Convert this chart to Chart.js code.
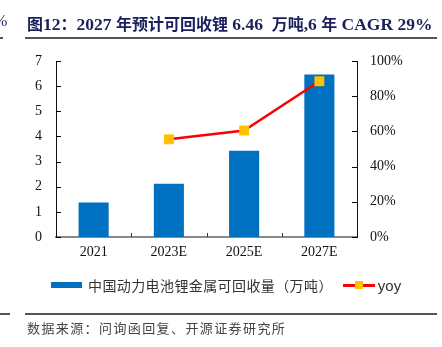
<!DOCTYPE html>
<html><head><meta charset="utf-8">
<script src="https://cdn.jsdelivr.net/npm/chart.js@4/dist/chart.umd.min.js"></script>
<style>
html,body{margin:0;padding:0;background:#fff;width:442px;height:347px;overflow:hidden;}
body{position:relative;font-family:"Noto Sans CJK SC",sans-serif;}
#wrap{position:absolute;left:0;top:0;width:442px;height:347px;}
.abs{position:absolute;white-space:nowrap;}
#title{left:27px;top:11px;font:bold 16px "Noto Sans CJK SC",serif;color:#1b1f5c;}
#title .l{font:bold 17.5px "Liberation Serif",serif;}
.hr{position:absolute;height:1.5px;background:#555;}
#legend{left:51px;top:276px;font-size:14px;color:#333;display:flex;align-items:center;height:18px;}
#footer{left:27px;top:318px;font-size:13px;letter-spacing:1.4px;color:#444;}
</style></head>
<body>
<div id="wrap"><canvas id="c" width="442" height="347"></canvas></div>
<div class="abs" style="left:-6px;top:12px;font:16px 'Liberation Serif';color:#1b1f5c;">%</div>
<div class="hr" style="left:0;top:37px;width:3px;"></div>
<div class="hr" style="left:25px;top:37px;width:412px;"></div>
<div id="title" class="abs">图<span class="l">12</span>：<span class="l">2027 </span>年预计可回收锂<span class="l"> 6.46&nbsp; </span>万吨<span class="l">,6 </span>年<span class="l"> CAGR 29%</span></div>
<div id="legend" class="abs">
  <span style="display:inline-block;width:31px;height:6px;background:#0070C0;"></span>
  <span style="margin-left:6px;letter-spacing:0.4px;">中国动力电池锂金属可回收量（万吨）</span>
  <span style="position:relative;display:inline-block;width:32px;height:10px;margin-left:10px;">
    <span style="position:absolute;left:0;top:4px;width:32px;height:2.5px;background:#FF0000;"></span>
    <span style="position:absolute;left:12px;top:1px;width:8px;height:8px;background:#FFC000;"></span>
  </span>
  <span style="margin-left:3px;font:15px 'Liberation Sans',sans-serif;color:#333;">yoy</span>
</div>
<div class="hr" style="left:0;top:313px;width:10px;"></div>
<div class="hr" style="left:25px;top:313px;width:412px;"></div>
<div id="footer" class="abs">数据来源：问询函回复、开源证券研究所</div>
<script>
const categories = ['2021', '2023E', '2025E', '2027E'];
const recycleLi = [1.37, 2.12, 3.43, 6.46];
const yoyPct = [null, 55.5, 60.5, 88.5];
const leftTicks = [0, 1, 2, 3, 4, 5, 6, 7];
const rightTicks = [0, 20, 40, 60, 80, 100];

const tickFont = {family: "'Liberation Serif', 'Times New Roman', serif", size: 14};

const innerTicks = {
  id: 'innerTicks',
  afterDraw(chart) {
    const {ctx, chartArea: a, scales} = chart;
    ctx.save();
    ctx.strokeStyle = '#000';
    ctx.lineWidth = 1;
    ctx.beginPath();
    scales.y.ticks.forEach((t, i) => {
      const p = Math.round(scales.y.getPixelForTick(i)) + 0.5;
      ctx.moveTo(a.left, p); ctx.lineTo(a.left + 5, p);
    });
    scales.y1.ticks.forEach((t, i) => {
      const p = Math.round(scales.y1.getPixelForTick(i)) + 0.5;
      ctx.moveTo(a.right, p); ctx.lineTo(a.right - 5, p);
    });
    ctx.stroke();
    ctx.beginPath();
    ctx.strokeStyle = '#333';
    for (let i = 0; i < categories.length - 1; i++) {
      const p = Math.round((scales.x.getPixelForValue(i) + scales.x.getPixelForValue(i + 1)) / 2) + 0.5;
      ctx.moveTo(p, a.bottom); ctx.lineTo(p, a.bottom - 4);
    }
    ctx.stroke();
    ctx.restore();
  }
};

new Chart(document.getElementById('c'), {
  data: {
    labels: categories,
    datasets: [
      {type: 'line', label: 'yoy', data: yoyPct, yAxisID: 'y1', order: 0,
       borderColor: '#FF0000', borderWidth: 2.5, pointStyle: 'rect', pointRadius: 7,
       pointHoverRadius: 7, pointBackgroundColor: '#FFC000', pointBorderWidth: 0, tension: 0},
      {type: 'bar', label: '中国动力电池锂金属可回收量（万吨）', data: recycleLi, yAxisID: 'y', order: 1,
       backgroundColor: '#0070C0', categoryPercentage: 1, barPercentage: 0.4}
    ]
  },
  options: {
    responsive: false, animation: false,
    layout: {padding: {top: 61, bottom: 80, left: 0, right: 0}},
    plugins: {legend: {display: false}, tooltip: {enabled: false}},
    scales: {
      x: {
        grid: {display: false, drawTicks: false},
        border: {display: true, color: '#8a8a8a', width: 2},
        ticks: {font: tickFont, color: '#111', padding: 7},
        afterFit(s) { s.height = 30; }
      },
      y: {
        position: 'left', min: 0, max: 7,
        afterBuildTicks(s) { s.ticks = leftTicks.map(v => ({value: v})); },
        grid: {display: false, drawTicks: false},
        border: {display: true, color: '#111', width: 1},
        ticks: {font: tickFont, color: '#111', padding: 14},
        afterFit(s) { s.width = 56; }
      },
      y1: {
        position: 'right', min: 0, max: 100,
        afterBuildTicks(s) { s.ticks = rightTicks.map(v => ({value: v})); },
        grid: {display: false, drawTicks: false},
        border: {display: true, color: '#111', width: 1},
        ticks: {font: tickFont, color: '#111', padding: 13, callback: v => v + '%'},
        afterFit(s) { s.width = 85; }
      }
    }
  },
  plugins: [innerTicks]
});
</script>
</body></html>
